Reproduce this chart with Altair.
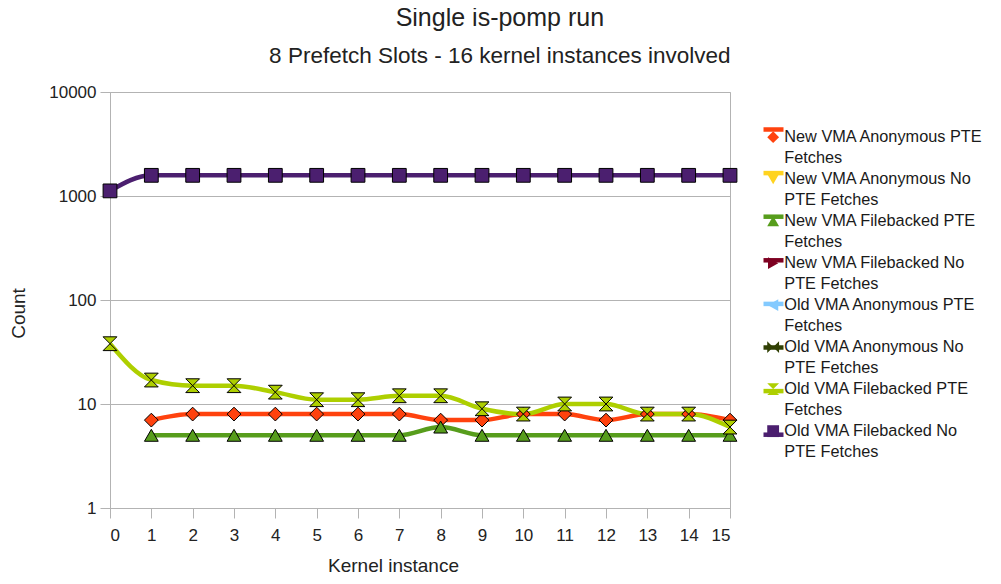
import altair as alt
import pandas as pd

# ---- data ----
kernel_instance = [0, 1, 2, 3, 4, 5, 6, 7, 8, 9, 10, 11, 12, 13, 14, 15]

series_names = [
    "New VMA Anonymous PTE Fetches",
    "New VMA Anonymous No PTE Fetches",
    "New VMA Filebacked PTE Fetches",
    "New VMA Filebacked No PTE Fetches",
    "Old VMA Anonymous PTE Fetches",
    "Old VMA Anonymous No PTE Fetches",
    "Old VMA Filebacked PTE Fetches",
    "Old VMA Filebacked No PTE Fetches",
]

new_anon_pte = [None, 7, 8, 8, 8, 8, 8, 8, 7, 7, 8, 8, 7, 8, 8, 7]
new_anon_nopte = [None, None, None, None, None, None, None, None, None, None, None, None, None, None, None, None]
new_file_pte = [None, 5, 5, 5, 5, 5, 5, 5, 6, 5, 5, 5, 5, 5, 5, 5]
new_file_nopte = [None, None, None, None, None, None, None, None, None, None, None, None, None, None, None, None]
old_anon_pte = [None, None, None, None, None, None, None, None, None, None, None, None, None, None, None, None]
old_anon_nopte = [None, None, None, None, None, None, None, None, None, None, None, None, None, None, None, None]
old_file_pte = [38, 17, 15, 15, 13, 11, 11, 12, 12, 9, 8, 10, 10, 8, 8, 6]
old_file_nopte = [1120, 1580, 1580, 1580, 1580, 1580, 1580, 1580, 1580, 1580, 1580, 1580, 1580, 1580, 1580, 1580]

series_values = [new_anon_pte, new_anon_nopte, new_file_pte, new_file_nopte,
                 old_anon_pte, old_anon_nopte, old_file_pte, old_file_nopte]

y_ticks = [1, 10, 100, 1000, 10000]

# ---- styling ----
colors = ["#ff420e", "#ffd320", "#579d1c", "#7e0021",
          "#83caff", "#314004", "#aecf00", "#4b1f6f"]
shapes = ["diamond", "triangle-down", "triangle-up", "triangle-right",
          "triangle-left", "M-1,-1L-1,1L1,-1L1,1Z", "M-1,-1L1,-1L-1,1L1,1Z", "square"]

rows = []
for name, vals in zip(series_names, series_values):
    for xi, v in zip(kernel_instance, vals):
        if v is not None:
            rows.append({"series": name, "x": xi, "value": v})
df = pd.DataFrame(rows)

FONT = "Liberation Sans"
label_expr = ("[indexof(datum.label, 'No PTE') > 0 ? replace(datum.label, ' PTE Fetches', '') "
              ": replace(datum.label, ' Fetches', ''), "
              "indexof(datum.label, 'No PTE') > 0 ? 'PTE Fetches' : 'Fetches']")

LEG_X = 655
LEG_Y = 37
ROW_PAD = 4

common_legend = dict(
    orient="none", title=None,
    labelExpr=label_expr, labelFont=FONT,
    labelFontSize=16.3, labelColor="#1a1a1a", labelBaseline="middle",
    padding=0,
)

# the line legend's scale carries one unused extra domain entry so that Vega-Lite
# keeps it as its own legend (drawn under the marker legend)
line_scale = alt.Scale(domain=series_names + ["-"], range=colors + ["#ffffff"])

x_enc = alt.X("x:Q", scale=alt.Scale(domain=[0, 15], nice=False, zero=False),
              axis=alt.Axis(values=kernel_instance, title="Kernel instance", grid=False,
                            tickSize=10, labelPadding=9, titlePadding=13, titleX=283))
y_enc = alt.Y("value:Q", scale=alt.Scale(type="log", domain=[1, 10000], nice=False),
              axis=alt.Axis(values=y_ticks, format="d", title="Count", grid=True,
                            tickSize=10, labelPadding=4, titlePadding=20, titleY=221))

lines = alt.Chart(df).mark_line(strokeWidth=4.5, interpolate="monotone").encode(
    x=x_enc, y=y_enc,
    color=alt.Color("series:N", scale=line_scale,
                    legend=alt.Legend(legendX=LEG_X - 4, legendY=LEG_Y - 12, values=series_names,
                                      rowPadding=ROW_PAD - 2.4, labelOffset=0, labelLimit=150,
                                      symbolType="stroke", symbolStrokeWidth=4.5, symbolSize=400,
                                      labelOpacity=0, **common_legend)),
    detail="series:N",
)

pt_legend = alt.Legend(legendX=LEG_X, legendY=LEG_Y, rowPadding=ROW_PAD, symbolStrokeColor="black",
                       symbolStrokeWidth=1, symbolSize=140, symbolOpacity=1, labelOffset=3,
                       labelLimit=400, **common_legend)

points = alt.Chart(df).mark_point(filled=True, size=190, opacity=1,
                                  stroke="black", strokeWidth=1).encode(
    x=x_enc, y=y_enc,
    fill=alt.Fill("series:N", scale=alt.Scale(domain=series_names, range=colors), legend=pt_legend),
    shape=alt.Shape("series:N", scale=alt.Scale(domain=series_names, range=shapes), legend=pt_legend),
)

chart = alt.layer(lines, points).properties(
    width=620, height=416,
    padding={"left": 1, "top": -3, "right": 0, "bottom": 0},
    title=alt.Title("Single is-pomp run",
                    subtitle="8 Prefetch Slots - 16 kernel instances involved",
                    font=FONT, fontSize=25, fontWeight="normal", color="#222222",
                    subtitleFont=FONT, subtitleFontSize=22.5, subtitleColor="#222222",
                    subtitlePadding=14, anchor="middle", frame="bounds", offset=16, dx=3),
).configure(
    style={"guide-label": {"lineHeight": 21}}
).configure_view(
    stroke="#b3b3b3", strokeWidth=1
).configure_axis(
    labelFont=FONT, labelFontSize=17, labelColor="#222222",
    titleFont=FONT, titleFontSize=19, titleFontWeight="normal", titleColor="#222222",
    domainColor="#b3b3b3", tickColor="#b3b3b3", gridColor="#b3b3b3", gridOpacity=1,
)

chart.save("out.html", embed_options={"renderer": "svg", "actions": False})
